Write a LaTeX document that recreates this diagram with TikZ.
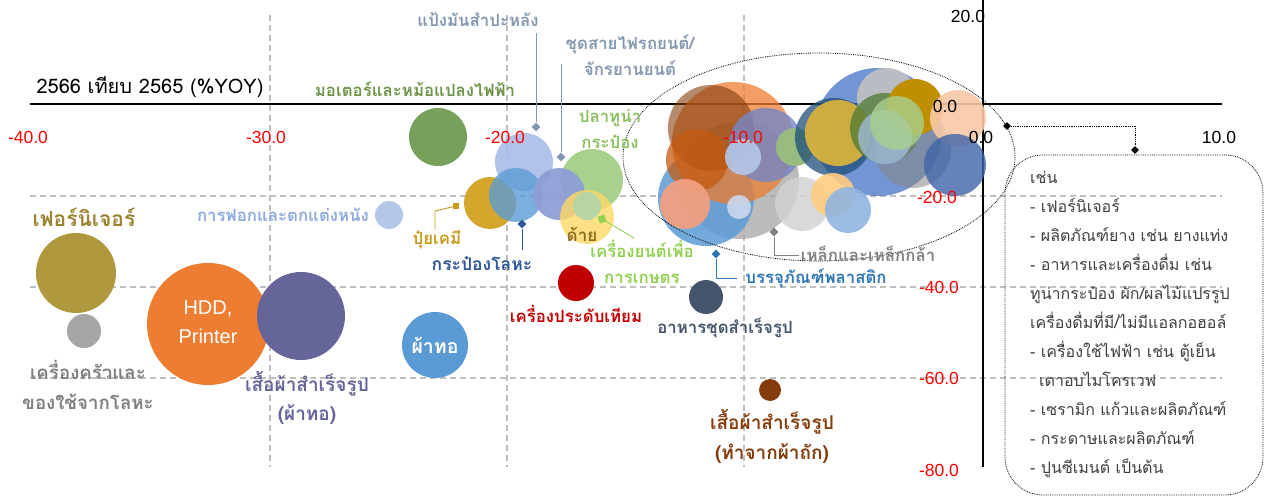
\documentclass[tikz,border=0pt]{standalone}
\usepackage{fontspec}
\setmainfont[Script=Thai]{Loma}
\newfontfamily\numfont{Liberation Sans}
\usetikzlibrary{shapes.geometric}
\definecolor{cFurn}{HTML}{B0983F}
\definecolor{cKit}{HTML}{A6A6A6}
\definecolor{cHdd}{HTML}{ED7D31}
\definecolor{cCloth}{HTML}{65659A}
\definecolor{cWeave}{HTML}{5B9BD5}
\definecolor{cMotor}{HTML}{77A05A}
\definecolor{cLeather}{HTML}{B4C7E7}
\definecolor{cFert}{HTML}{D4A72C}
\definecolor{cCass}{HTML}{A9BDE6}
\definecolor{cCan}{HTML}{5B9BD5}
\definecolor{cWire}{HTML}{8E9ED6}
\definecolor{cTuna}{HTML}{A9D18E}
\definecolor{cYarn}{HTML}{FFD966}
\definecolor{cAgri}{HTML}{B5D5A8}
\definecolor{cJew}{HTML}{C00000}
\definecolor{cFood}{HTML}{44546A}
\definecolor{cKnit}{HTML}{843C0C}
\definecolor{kBlue}{HTML}{4472C4}
\definecolor{kNavy}{HTML}{1F4E79}
\definecolor{kSteel}{HTML}{3F64A8}
\definecolor{kPeri}{HTML}{7487C8}
\definecolor{kDkGreen}{HTML}{4E7A32}
\definecolor{kGold}{HTML}{BF8F00}
\definecolor{kYellow}{HTML}{D6B23E}
\definecolor{kSalmon}{HTML}{F1A080}
\definecolor{kPeach}{HTML}{F8C8A6}
\definecolor{kLtOr}{HTML}{FFCD80}
\definecolor{kLtBlue}{HTML}{8FB4E0}
\definecolor{kDkOr}{HTML}{C55A11}
\definecolor{tSlate}{HTML}{8497B0}
\definecolor{tMotor}{HTML}{6E9448}
\definecolor{tTuna}{HTML}{8CC063}
\definecolor{tLeather}{HTML}{8FAADC}
\definecolor{tFert}{HTML}{C79A1A}
\definecolor{tCan}{HTML}{2F5597}
\definecolor{tYarn}{HTML}{8C6D1F}
\definecolor{tAgri}{HTML}{92D050}
\definecolor{tPlast}{HTML}{2E75B6}
\definecolor{tSteel}{HTML}{808080}
\definecolor{tFurn}{HTML}{9C8430}
\definecolor{tKit}{HTML}{7F7F7F}
\definecolor{tBox}{HTML}{404040}
\definecolor{gridc}{HTML}{BFBFBF}
\newcommand\bb[6]{\node[bub,fill=#5,fill opacity=#6,minimum size=#4pt] (#1) at (#2,#3) {};}
\begin{document}
\begin{tikzpicture}[x=1pt,y=-1pt,
  bub/.style={circle,inner sep=0pt,draw=none},
  gridl/.style={gridc,line width=1.3pt,dash pattern=on 6pt off 4pt},
  axl/.style={black,line width=1.6pt},
  lab/.style={font=\fontsize{16.8}{19}\selectfont\bfseries,inner sep=0pt,align=center},
  num/.style={font=\numfont\fontsize{17.5}{19}\selectfont,inner sep=0pt},
  dmd/.style={diamond,inner sep=0pt,minimum size=9pt,draw=none},
  sqm/.style={rectangle,inner sep=0pt,minimum size=6pt,draw=none},
  leader/.style={line width=0.9pt}]
\useasboundingbox (0,0) rectangle (1266,500);
% grid
\draw[gridl] (30,196) -- (1222,196);
\draw[gridl] (30,287) -- (1222,287);
\draw[gridl] (30,378) -- (1222,378);
\draw[gridl] (270,15) -- (270,467);
\draw[gridl] (507,15) -- (507,467);
\draw[gridl] (744,15) -- (744,467);
% axes
\draw[axl] (30,104) -- (1222,104);
\draw[axl] (983,0) -- (983,467);
% left bubbles
\bb{bFurn}{76}{273}{80}{cFurn}{1}
\bb{bKit}{84}{331}{34}{cKit}{1}
\bb{bHdd}{208}{324}{122}{cHdd}{1}
\bb{bCloth}{301}{316}{88}{cCloth}{1}
\bb{bWeave}{435}{345}{66}{cWeave}{1}
\bb{bMotor}{438}{137}{58}{cMotor}{1}
\bb{bLeather}{389}{215}{28}{cLeather}{1}
\bb{bFert}{490}{203}{52}{cFert}{1}
\bb{bCass}{524}{162}{58}{cCass}{0.9}
\bb{bCan}{516}{195}{54}{cCan}{0.8}
\bb{bTuna}{592}{180}{62}{cTuna}{1}
\bb{bWire}{559}{194}{52}{cWire}{0.95}
\bb{bYarn}{587}{217}{54}{cYarn}{0.8}
\bb{bAgri}{587}{206}{28}{cAgri}{0.95}
\bb{bJew}{576}{283}{36}{cJew}{1}
\bb{bFood}{706}{297}{34}{cFood}{1}
\bb{bKnit}{770}{390}{22}{cKnit}{1}
% cluster left
\bb{c1}{740}{180}{118}{cKit}{0.75}
\bb{c2}{706}{198}{96}{cWeave}{0.85}
\bb{c3}{733}{143}{122}{cHdd}{0.75}
\bb{c4}{711}{128}{86}{cKnit}{0.6}
\bb{c5}{697}{160}{62}{kDkOr}{0.75}
\bb{c6}{685}{204}{50}{kSalmon}{0.95}
\bb{c7}{766}{145}{74}{kPeri}{0.8}
\bb{c8}{743}{157}{36}{cLeather}{0.9}
\bb{c9}{739}{207}{24}{cLeather!70!white}{0.9}
\bb{c10}{795}{147}{38}{cTuna!90!black}{1}
% cluster right
\bb{c11}{878}{132}{128}{kBlue}{0.75}
\bb{c12}{887}{98}{60}{cKit!70!white}{0.9}
\bb{c13}{834}{137}{78}{kNavy}{0.75}
\bb{c14}{838}{133}{66}{kYellow}{0.95}
\bb{c15}{885}{128}{70}{kDkGreen}{0.75}
\bb{c16}{913}{150}{76}{cKit!80!black}{0.55}
\bb{c17}{915}{107}{56}{kGold}{1}
\bb{c18}{885}{137}{54}{cLeather!80!cWeave}{0.75}
\bb{c19}{897}{123}{54}{cTuna}{0.8}
\bb{c20}{958}{118}{56}{kPeach}{0.9}
\bb{c21}{955}{165}{62}{kSteel}{0.8}
\bb{c22}{802}{204}{54}{cKit!50!white}{0.85}
\bb{c23}{833}{195}{44}{kLtOr}{0.9}
\bb{c24}{848}{210}{46}{kLtBlue}{0.9}
% dotted ellipse
\draw[densely dotted,line width=0.8pt] (819,157) ellipse [x radius=196, y radius=104];
% axis numbers
\node[num,red] (xm40) at (28,137) {-40.0};
\node[num,red] (xm30) at (266,137) {-30.0};
\node[num,red] (xm20) at (505,137) {-20.0};
\node[num,red] (xm10) at (743,137) {-10.0};
\node[num] (x0) at (981,137) {0.0};
\node[num] (x10) at (1219,137) {10.0};
\node[num] (y20) at (968,16) {20.0};
\node[num] (y0) at (945,106) {0.0};
\node[num,red] (ym20) at (937,197) {-20.0};
\node[num,red] (ym40) at (939,287) {-40.0};
\node[num,red] (ym60) at (939,378) {-60.0};
\node[num,red] (ym80) at (939,470) {-80.0};
% title
\node[inner sep=0pt,font=\fontsize{20}{22}\selectfont] (title) at (150,87) {2566 เทียบ 2565 (\%YOY)};
% labels
\node[lab,tSlate] (tCass) at (478,20) {แป้งมันสำปะหลัง};
\node[lab,tSlate,font=\fontsize{16.8}{26}\selectfont\bfseries] (tWire) at (630,55) {ชุดสายไฟรถยนต์/\\จักรยานยนต์};
\node[lab,tMotor] (tMotor) at (415,89) {มอเตอร์และหม้อแปลงไฟฟ้า};
\node[lab,tTuna,font=\fontsize{16.8}{26}\selectfont\bfseries] (tTuna) at (610,129) {ปลาทูน่า\\กระป๋อง};
\node[lab,tLeather] (tLeather) at (283,215) {การฟอกและตกแต่งหนัง};
\node[lab,tFert] (tFert) at (437,240) {ปุ๋ยเคมี};
\node[lab,tCan,font=\fontsize{17.5}{19}\selectfont\bfseries] (tCan) at (482,263) {กระป๋องโลหะ};
\node[lab,tYarn,font=\fontsize{17}{19}\selectfont\bfseries] (tYarn) at (582,234) {ด้าย};
\node[lab,tAgri,font=\fontsize{16.8}{26}\selectfont\bfseries] (tAgri) at (642,262) {เครื่องยนต์เพื่อ\\การเกษตร};
\node[lab,cJew] (tJew) at (576,314) {เครื่องประดับเทียม};
\node[lab,cFood] (tFood) at (725,328) {อาหารชุดสำเร็จรูป};
\node[lab,tPlast] (tPlast) at (816,278) {บรรจุภัณฑ์พลาสติก};
\node[lab,tSteel] (tSteel) at (868,254) {เหล็กและเหล็กกล้า};
\node[lab,tFurn,font=\fontsize{21}{23}\selectfont\bfseries] (tFurn) at (84,217) {เฟอร์นิเจอร์};
\node[lab,tKit,font=\fontsize{18.7}{30}\selectfont\bfseries] (tKit) at (88,385) {เครื่องครัวและ\\ของใช้จากโลหะ};
\node[lab,white,font=\numfont\fontsize{20}{29}\selectfont] (tHdd) at (208,322) {HDD,\\Printer};
\node[lab,cCloth,font=\fontsize{19}{29}\selectfont\bfseries] (tCloth) at (307,398) {เสื้อผ้าสำเร็จรูป\\(ผ้าทอ)};
\node[lab,white,font=\fontsize{19.5}{21}\selectfont\bfseries] (tWeave) at (435,345) {ผ้าทอ};
\node[lab,cKnit,font=\fontsize{19}{30}\selectfont\bfseries] (tKnit) at (772,436) {เสื้อผ้าสำเร็จรูป\\(ทำจากผ้าถัก)};
% markers and leaders
\node[dmd,fill=tSlate] (mCass) at (536,127) {};
\coordinate (cassTop) at (536,33);
\draw[leader,tSlate] (mCass) -- (cassTop);
\node[dmd,fill=tSlate] (mWire) at (561,157) {};
\coordinate (wireTop) at (561,64);
\draw[leader,tSlate] (mWire) -- (wireTop);
\node[sqm,fill=tFert] (mFert) at (456,206) {};
\coordinate (fertK) at (435,211);
\coordinate (fertB) at (435,229);
\draw[leader,tFert] (mFert) -- (fertK) -- (fertB);
\node[dmd,fill=tCan] (mCan) at (522,224) {};
\coordinate (canB) at (522,250);
\draw[leader,tCan] (mCan) -- (canB);
\node[sqm,fill=tAgri,minimum size=7pt,rotate=20] (mAgri) at (602,219) {};
\coordinate (agriE) at (634,238);
\draw[leader,tAgri] (mAgri) -- (agriE);
\node[dmd,fill=tPlast] (mPlast) at (716,254) {};
\coordinate (plastE) at (737,278);
\draw[leader,tPlast] (mPlast) |- (plastE);
\node[dmd,fill=tSteel] (mSteel) at (774,232) {};
\coordinate (steelE) at (799,255);
\draw[leader,tSteel] (mSteel) |- (steelE);
% callout
\node[draw,densely dotted,line width=0.8pt,rounded corners=38pt,minimum width=258pt,minimum height=340pt,inner sep=0pt] (callout) at (1134,325) {};
\node[dmd,fill=black,minimum size=8pt] (mE) at (1007,126) {};
\node[dmd,fill=black,minimum size=8pt] (mB) at (1135,150) {};
\draw[densely dotted,line width=0.8pt] (mE) -| (mB);
\node[anchor=north west,inner sep=0pt,align=left,text=tBox,font=\fontsize{16}{29}\selectfont] (boxtext) at (1030,171) {เช่น\\
- เฟอร์นิเจอร์\\
- ผลิตภัณฑ์ยาง เช่น ยางแท่ง\\
- อาหารและเครื่องดื่ม เช่น\\
ทูน่ากระป๋อง ผัก/ผลไม้แปรรูป\\
เครื่องดื่มที่มี/ไม่มีแอลกอฮอล์\\
- เครื่องใช้ไฟฟ้า เช่น ตู้เย็น\\
\hspace*{9pt}เตาอบไมโครเวฟ\\
- เซรามิก แก้วและผลิตภัณฑ์\\
- กระดาษและผลิตภัณฑ์\\
- ปูนซีเมนต์ เป็นต้น};
\end{tikzpicture}
\end{document}
